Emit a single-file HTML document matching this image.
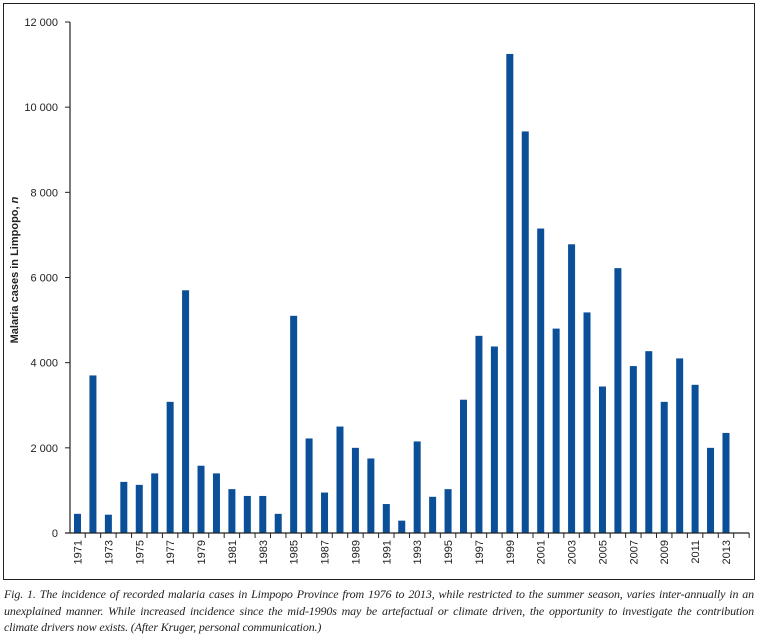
<!DOCTYPE html>
<html><head><meta charset="utf-8"><style>
body{margin:0;background:#fff;width:757px;height:643px;overflow:hidden;font-family:"Liberation Sans",sans-serif}
.cap{position:absolute;left:4px;top:586px;width:750px;font-family:"Liberation Serif",serif;font-style:italic;font-size:12px;letter-spacing:-0.15px;line-height:16.5px;color:#222}
.cap div{white-space:nowrap;overflow:hidden}
.cap .j{text-align:justify;text-align-last:justify;white-space:normal;height:16.5px}
</style></head><body>
<svg width="757" height="643" style="position:absolute;left:0;top:0">
<rect x="3.5" y="3.5" width="751" height="576" fill="none" stroke="#222" stroke-width="1"/>
<g id="g"></g>
</svg>
<div class="cap"><div class="j">Fig. 1. The incidence of recorded malaria cases in Limpopo Province from 1976 to 2013, while restricted to the summer season, varies inter-annually in an</div><div class="j">unexplained manner. While increased incidence since the mid-1990s may be artefactual or climate driven, the opportunity to investigate the contribution</div><div>climate drivers now exists. (After Kruger, personal communication.)</div></div>
<script>
const years=[];for(let y=1971;y<=2013;y++)years.push(y);
const cases=[450,3700,430,1200,1130,1400,3080,5700,1580,1400,1030,870,870,450,5100,2220,950,2500,2000,1750,680,290,2150,850,1030,3130,4630,4380,11250,9430,7150,4800,6780,5180,3440,6220,3920,4270,3080,4100,3480,2000,2350];
const yTicks=[0,2000,4000,6000,8000,10000,12000];
const yTickLabels=["0","2 000","4 000","6 000","8 000","10 000","12 000"];
const NS="http://www.w3.org/2000/svg",g=document.getElementById('g');
const x0=70,y0=533,yTop=22,step=15.44,first=77.5,ymax=12000;
const ys=v=>y0-(v/ymax)*(y0-yTop);
const xs=i=>first+i*step;
function mk(t,a){const e=document.createElementNS(NS,t);for(const k in a)e.setAttribute(k,a[k]);g.appendChild(e);return e;}
cases.forEach((v,i)=>{const r=mk('rect',{x:xs(i)-3.5,y:ys(v),width:7,height:y0-ys(v),fill:'#0a4f97'});

});
let a=mk('line',{x1:x0,y1:yTop,x2:x0,y2:y0,stroke:'#222','stroke-width':1.2});


const xEnd=xs(years.length)+step/2;
a=mk('line',{x1:x0-5,y1:y0,x2:xEnd,y2:y0,stroke:'#222','stroke-width':1.2});


yTicks.forEach((v,i)=>{mk('line',{x1:x0-5,y1:ys(v),x2:x0,y2:ys(v),stroke:'#222'});
const t=mk('text',{x:x0-12,y:ys(v)+4,'text-anchor':'end','font-size':11,fill:'#222'});t.textContent=yTickLabels[i];

});
for(let i=0;i<=years.length;i++){const tx=xs(i)+step/2;mk('line',{x1:tx,y1:y0,x2:tx,y2:y0+5,stroke:'#222'});}
for(let i=0;i<years.length;i+=2){const t=mk('text',{x:0,y:0,'text-anchor':'end','font-size':11,fill:'#222',transform:`translate(${xs(i)+4},${y0+7}) rotate(-90)`});t.textContent=years[i];

}
const yt=mk('text',{x:0,y:0,'text-anchor':'middle','font-size':11,'font-weight':'bold',fill:'#222',transform:'translate(18,270) rotate(-90)'});
yt.innerHTML='Malaria cases in Limpopo, <tspan font-style="italic">n</tspan>';


</script>
</body></html>
